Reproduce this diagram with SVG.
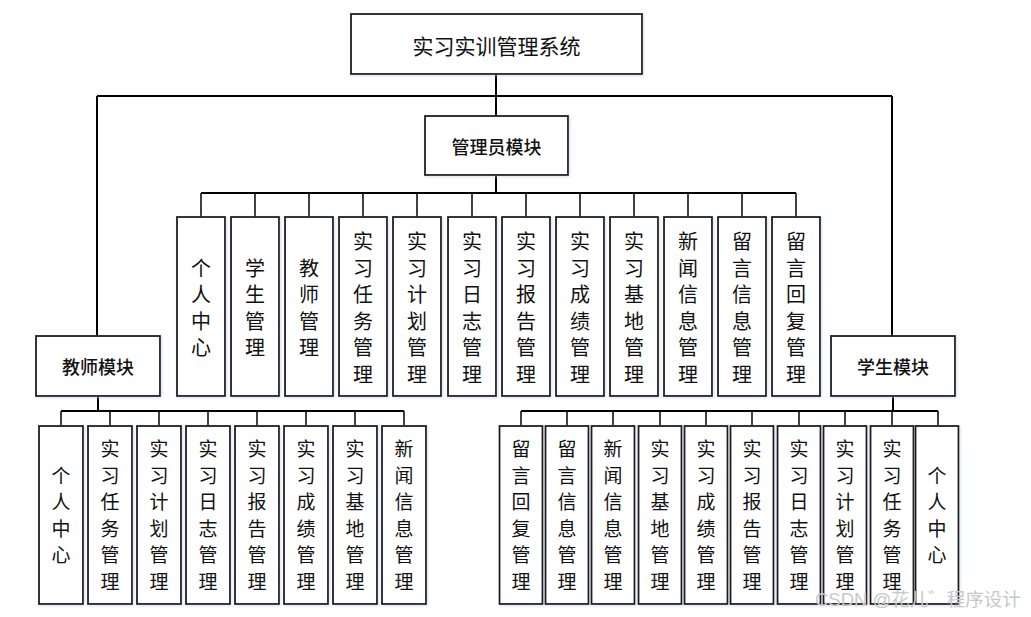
<svg xmlns="http://www.w3.org/2000/svg" width="1031" height="617" viewBox="0 0 1031 617">
<defs>
<filter id="sh" x="-20%" y="-20%" width="140%" height="140%">
<feDropShadow dx="1" dy="1" stdDeviation="1.5" flood-color="#b8cce8" flood-opacity="0.6"/>
</filter>
<style>
.box{fill:#ffffff;stroke:#1a1a1a;stroke-width:1.8;filter:url(#sh)}
.ln{fill:none;stroke:#000;stroke-width:2}
.tk{fill:none;stroke:#111;stroke-width:1.6}
.t{font-family:"Noto Sans CJK SC",sans-serif;fill:#111;text-anchor:middle;dominant-baseline:central}
.title{font-size:21px}
.mod{font-size:18px;font-weight:500}
.v20{font-size:20px}
.v19{font-size:19px}
.wm{font-family:"Liberation Sans","Noto Sans CJK SC",sans-serif;font-size:18.5px;fill:#c8c8c8}
</style>
</defs>
<rect width="1031" height="617" fill="#ffffff"/>

<g id="connectors">
<path class="ln" d="M496 74V116M97 96H892M97 96V336M892 96V336"/>
<path class="ln" d="M496 175V193M201 193H796"/>
<path class="tk" d="M201 193V217M255 193V217M309 193V217M363 193V217M417 193V217M472 193V217M526 193V217M580 193V217M634 193V217M688 193V217M742 193V217M796 193V217"/>
<path class="ln" d="M98 396V411M61 411H404"/>
<path class="tk" d="M61 411V426M110 411V426M159 411V426M208 411V426M257 411V426M306 411V426M355 411V426M404 411V426"/>
<path class="ln" d="M893 396V411M521 411H938"/>
<path class="tk" d="M521 411V426M567 411V426M613 411V426M660 411V426M706 411V426M752 411V426M799 411V426M845 411V426M892 411V426M938 411V426"/>
</g>

<g id="root"><rect class="box" x="351" y="14" width="291" height="60"/><text class="t title" x="496.5" y="45">实习实训管理系统</text></g>
<g id="admin"><rect class="box" x="425" y="116" width="143" height="59"/><text class="t mod" x="496.5" y="146">管理员模块</text></g>
<g id="teacher"><rect class="box" x="36" y="336" width="124" height="60"/><text class="t mod" x="98" y="366">教师模块</text></g>
<g id="student"><rect class="box" x="831" y="336" width="124" height="60"/><text class="t mod" x="893" y="366">学生模块</text></g>

<!-- admin children -->
<g id="a1"><rect class="box" x="177" y="217" width="48" height="179"/><text class="t v20"><tspan x="201" y="266.5">个</tspan><tspan x="201" y="293">人</tspan><tspan x="201" y="319.5">中</tspan><tspan x="201" y="346">心</tspan></text></g>
<g id="a2"><rect class="box" x="231" y="217" width="48" height="179"/><text class="t v20"><tspan x="255" y="266.5">学</tspan><tspan x="255" y="293">生</tspan><tspan x="255" y="319.5">管</tspan><tspan x="255" y="346">理</tspan></text></g>
<g id="a3"><rect class="box" x="285" y="217" width="48" height="179"/><text class="t v20"><tspan x="309" y="266.5">教</tspan><tspan x="309" y="293">师</tspan><tspan x="309" y="319.5">管</tspan><tspan x="309" y="346">理</tspan></text></g>
<g id="a4"><rect class="box" x="339" y="217" width="48" height="179"/><text class="t v20"><tspan x="363" y="240">实</tspan><tspan x="363" y="266.5">习</tspan><tspan x="363" y="293">任</tspan><tspan x="363" y="319.5">务</tspan><tspan x="363" y="346">管</tspan><tspan x="363" y="372.5">理</tspan></text></g>
<g id="a5"><rect class="box" x="393" y="217" width="48" height="179"/><text class="t v20"><tspan x="417" y="240">实</tspan><tspan x="417" y="266.5">习</tspan><tspan x="417" y="293">计</tspan><tspan x="417" y="319.5">划</tspan><tspan x="417" y="346">管</tspan><tspan x="417" y="372.5">理</tspan></text></g>
<g id="a6"><rect class="box" x="448" y="217" width="48" height="179"/><text class="t v20"><tspan x="472" y="240">实</tspan><tspan x="472" y="266.5">习</tspan><tspan x="472" y="293">日</tspan><tspan x="472" y="319.5">志</tspan><tspan x="472" y="346">管</tspan><tspan x="472" y="372.5">理</tspan></text></g>
<g id="a7"><rect class="box" x="502" y="217" width="48" height="179"/><text class="t v20"><tspan x="526" y="240">实</tspan><tspan x="526" y="266.5">习</tspan><tspan x="526" y="293">报</tspan><tspan x="526" y="319.5">告</tspan><tspan x="526" y="346">管</tspan><tspan x="526" y="372.5">理</tspan></text></g>
<g id="a8"><rect class="box" x="556" y="217" width="48" height="179"/><text class="t v20"><tspan x="580" y="240">实</tspan><tspan x="580" y="266.5">习</tspan><tspan x="580" y="293">成</tspan><tspan x="580" y="319.5">绩</tspan><tspan x="580" y="346">管</tspan><tspan x="580" y="372.5">理</tspan></text></g>
<g id="a9"><rect class="box" x="610" y="217" width="48" height="179"/><text class="t v20"><tspan x="634" y="240">实</tspan><tspan x="634" y="266.5">习</tspan><tspan x="634" y="293">基</tspan><tspan x="634" y="319.5">地</tspan><tspan x="634" y="346">管</tspan><tspan x="634" y="372.5">理</tspan></text></g>
<g id="a10"><rect class="box" x="664" y="217" width="48" height="179"/><text class="t v20"><tspan x="688" y="240">新</tspan><tspan x="688" y="266.5">闻</tspan><tspan x="688" y="293">信</tspan><tspan x="688" y="319.5">息</tspan><tspan x="688" y="346">管</tspan><tspan x="688" y="372.5">理</tspan></text></g>
<g id="a11"><rect class="box" x="718" y="217" width="48" height="179"/><text class="t v20"><tspan x="742" y="240">留</tspan><tspan x="742" y="266.5">言</tspan><tspan x="742" y="293">信</tspan><tspan x="742" y="319.5">息</tspan><tspan x="742" y="346">管</tspan><tspan x="742" y="372.5">理</tspan></text></g>
<g id="a12"><rect class="box" x="772" y="217" width="48" height="179"/><text class="t v20"><tspan x="796" y="240">留</tspan><tspan x="796" y="266.5">言</tspan><tspan x="796" y="293">回</tspan><tspan x="796" y="319.5">复</tspan><tspan x="796" y="346">管</tspan><tspan x="796" y="372.5">理</tspan></text></g>

<!-- teacher children -->
<g id="t1"><rect class="box" x="39" y="426" width="44" height="178"/><text class="t v19"><tspan x="61" y="473.5">个</tspan><tspan x="61" y="500">人</tspan><tspan x="61" y="526.5">中</tspan><tspan x="61" y="553">心</tspan></text></g>
<g id="t2"><rect class="box" x="88" y="426" width="44" height="178"/><text class="t v19"><tspan x="110" y="447">实</tspan><tspan x="110" y="473.5">习</tspan><tspan x="110" y="500">任</tspan><tspan x="110" y="526.5">务</tspan><tspan x="110" y="553">管</tspan><tspan x="110" y="579.5">理</tspan></text></g>
<g id="t3"><rect class="box" x="137" y="426" width="44" height="178"/><text class="t v19"><tspan x="159" y="447">实</tspan><tspan x="159" y="473.5">习</tspan><tspan x="159" y="500">计</tspan><tspan x="159" y="526.5">划</tspan><tspan x="159" y="553">管</tspan><tspan x="159" y="579.5">理</tspan></text></g>
<g id="t4"><rect class="box" x="186" y="426" width="44" height="178"/><text class="t v19"><tspan x="208" y="447">实</tspan><tspan x="208" y="473.5">习</tspan><tspan x="208" y="500">日</tspan><tspan x="208" y="526.5">志</tspan><tspan x="208" y="553">管</tspan><tspan x="208" y="579.5">理</tspan></text></g>
<g id="t5"><rect class="box" x="235" y="426" width="44" height="178"/><text class="t v19"><tspan x="257" y="447">实</tspan><tspan x="257" y="473.5">习</tspan><tspan x="257" y="500">报</tspan><tspan x="257" y="526.5">告</tspan><tspan x="257" y="553">管</tspan><tspan x="257" y="579.5">理</tspan></text></g>
<g id="t6"><rect class="box" x="284" y="426" width="44" height="178"/><text class="t v19"><tspan x="306" y="447">实</tspan><tspan x="306" y="473.5">习</tspan><tspan x="306" y="500">成</tspan><tspan x="306" y="526.5">绩</tspan><tspan x="306" y="553">管</tspan><tspan x="306" y="579.5">理</tspan></text></g>
<g id="t7"><rect class="box" x="333" y="426" width="44" height="178"/><text class="t v19"><tspan x="355" y="447">实</tspan><tspan x="355" y="473.5">习</tspan><tspan x="355" y="500">基</tspan><tspan x="355" y="526.5">地</tspan><tspan x="355" y="553">管</tspan><tspan x="355" y="579.5">理</tspan></text></g>
<g id="t8"><rect class="box" x="382" y="426" width="44" height="178"/><text class="t v19"><tspan x="404" y="447">新</tspan><tspan x="404" y="473.5">闻</tspan><tspan x="404" y="500">信</tspan><tspan x="404" y="526.5">息</tspan><tspan x="404" y="553">管</tspan><tspan x="404" y="579.5">理</tspan></text></g>

<!-- student children -->
<g id="s1"><rect class="box" x="499.5" y="426" width="43" height="178"/><text class="t v19"><tspan x="521" y="447">留</tspan><tspan x="521" y="473.5">言</tspan><tspan x="521" y="500">回</tspan><tspan x="521" y="526.5">复</tspan><tspan x="521" y="553">管</tspan><tspan x="521" y="579.5">理</tspan></text></g>
<g id="s2"><rect class="box" x="545.5" y="426" width="43" height="178"/><text class="t v19"><tspan x="567" y="447">留</tspan><tspan x="567" y="473.5">言</tspan><tspan x="567" y="500">信</tspan><tspan x="567" y="526.5">息</tspan><tspan x="567" y="553">管</tspan><tspan x="567" y="579.5">理</tspan></text></g>
<g id="s3"><rect class="box" x="591.5" y="426" width="43" height="178"/><text class="t v19"><tspan x="613" y="447">新</tspan><tspan x="613" y="473.5">闻</tspan><tspan x="613" y="500">信</tspan><tspan x="613" y="526.5">息</tspan><tspan x="613" y="553">管</tspan><tspan x="613" y="579.5">理</tspan></text></g>
<g id="s4"><rect class="box" x="638.5" y="426" width="43" height="178"/><text class="t v19"><tspan x="660" y="447">实</tspan><tspan x="660" y="473.5">习</tspan><tspan x="660" y="500">基</tspan><tspan x="660" y="526.5">地</tspan><tspan x="660" y="553">管</tspan><tspan x="660" y="579.5">理</tspan></text></g>
<g id="s5"><rect class="box" x="684.5" y="426" width="43" height="178"/><text class="t v19"><tspan x="706" y="447">实</tspan><tspan x="706" y="473.5">习</tspan><tspan x="706" y="500">成</tspan><tspan x="706" y="526.5">绩</tspan><tspan x="706" y="553">管</tspan><tspan x="706" y="579.5">理</tspan></text></g>
<g id="s6"><rect class="box" x="730.5" y="426" width="43" height="178"/><text class="t v19"><tspan x="752" y="447">实</tspan><tspan x="752" y="473.5">习</tspan><tspan x="752" y="500">报</tspan><tspan x="752" y="526.5">告</tspan><tspan x="752" y="553">管</tspan><tspan x="752" y="579.5">理</tspan></text></g>
<g id="s7"><rect class="box" x="777.5" y="426" width="43" height="178"/><text class="t v19"><tspan x="799" y="447">实</tspan><tspan x="799" y="473.5">习</tspan><tspan x="799" y="500">日</tspan><tspan x="799" y="526.5">志</tspan><tspan x="799" y="553">管</tspan><tspan x="799" y="579.5">理</tspan></text></g>
<g id="s8"><rect class="box" x="823.5" y="426" width="43" height="178"/><text class="t v19"><tspan x="845" y="447">实</tspan><tspan x="845" y="473.5">习</tspan><tspan x="845" y="500">计</tspan><tspan x="845" y="526.5">划</tspan><tspan x="845" y="553">管</tspan><tspan x="845" y="579.5">理</tspan></text></g>
<g id="s9"><rect class="box" x="870.5" y="426" width="43" height="178"/><text class="t v19"><tspan x="892" y="447">实</tspan><tspan x="892" y="473.5">习</tspan><tspan x="892" y="500">任</tspan><tspan x="892" y="526.5">务</tspan><tspan x="892" y="553">管</tspan><tspan x="892" y="579.5">理</tspan></text></g>
<g id="s10"><rect class="box" x="915.5" y="426" width="43" height="178"/><text class="t v19"><tspan x="937" y="473.5">个</tspan><tspan x="937" y="500">人</tspan><tspan x="937" y="526.5">中</tspan><tspan x="937" y="553">心</tspan></text></g>

<text class="wm" x="815" y="606">CSDN @花儿゛程序设计</text>
</svg>
